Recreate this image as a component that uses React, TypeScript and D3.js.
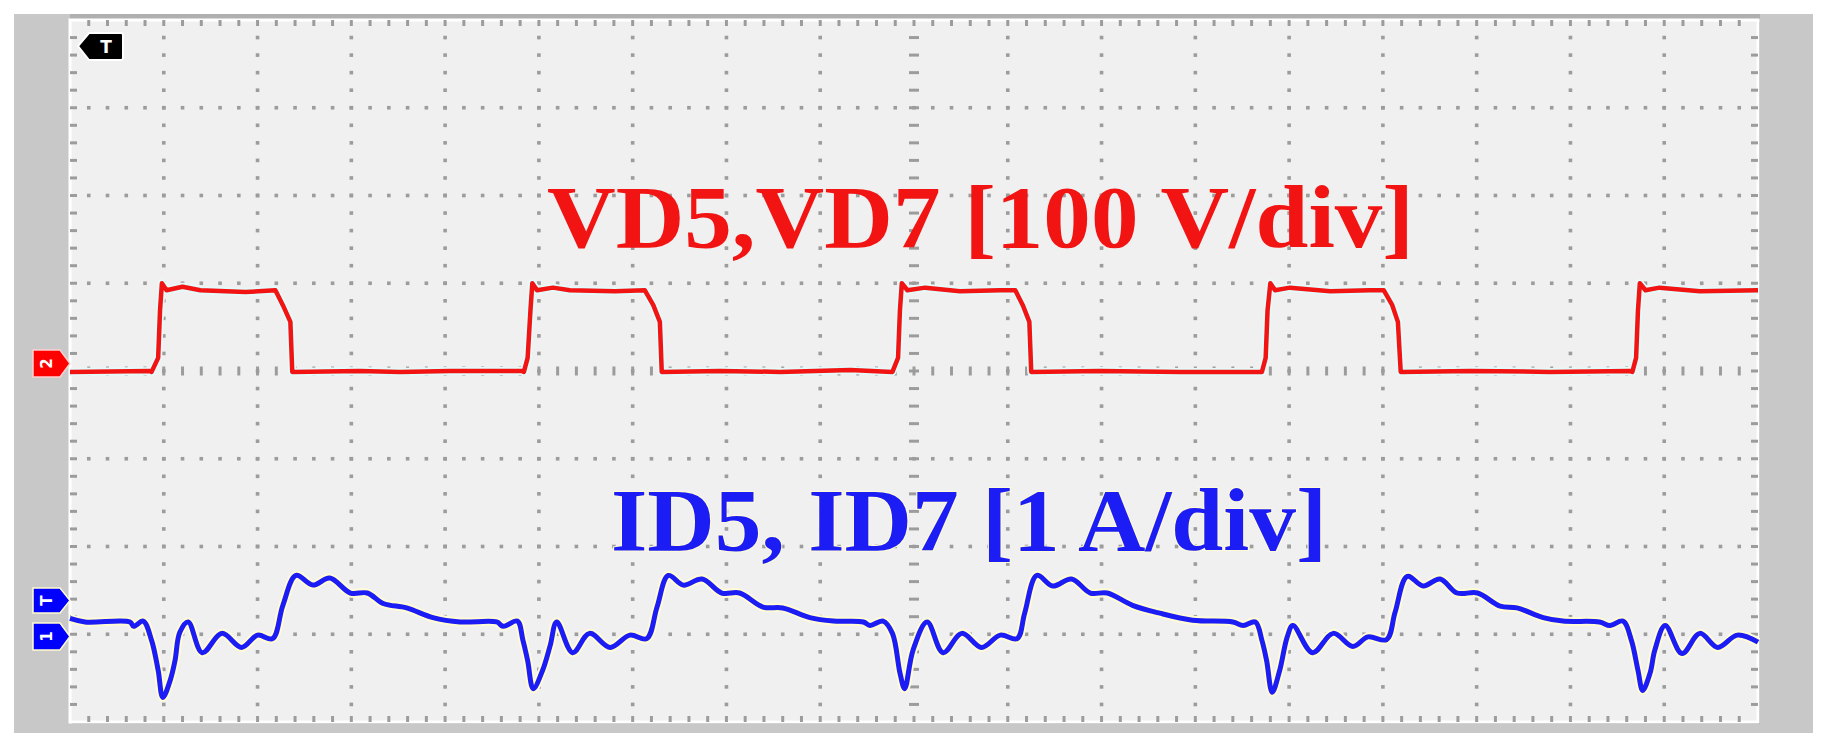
import React from 'react';
import * as d3 from 'd3';

// screen: 18 horizontal divisions x 8 vertical divisions, 5 minor steps each
const X_DIVS = 18;
const Y_DIVS = 8;
const MINOR = 5;

// CH2 : diode voltage (time in div, volts at 100 V/div, zero at center line)
const redTime = [
  0.0, 0.85, 0.87, 0.94, 0.96, 0.98, 1.03, 1.2, 1.39, 1.87, 2.19, 2.27, 2.35, 2.37,
  3.09, 3.52, 4.05, 4.82, 4.84, 4.88, 4.91, 4.93, 4.98, 5.15, 5.33, 5.81, 6.13, 6.22,
  6.29, 6.31, 6.93, 7.57, 8.32, 8.77, 8.83, 8.85, 8.87, 8.93, 9.12, 9.49, 9.92, 10.08,
  10.16, 10.23, 10.25, 10.98, 11.84, 12.71, 12.75, 12.77, 12.8, 12.85, 13.01, 13.44,
  13.86, 14.01, 14.1, 14.16, 14.19, 14.93, 15.78, 16.63, 16.66, 16.7, 16.72, 16.74,
  16.8, 16.95, 17.38, 18.0,
];
const redVolts = [
  -1, 0, -1, 15, 69, 100, 92, 96, 92, 90, 92, 75, 56, -1,
  0, -1, 0, 0, -1, 15, 69, 100, 92, 95, 92, 91, 92, 75,
  56, -1, 0, -1, 1, -1, 15, 69, 100, 92, 95, 91, 92, 92,
  75, 56, -1, 0, -1, -1, 15, 69, 100, 92, 95, 91,
  92, 92, 75, 56, -1, 0, -1, 0, -1, 15, 69, 100,
  92, 95, 91, 92,
];

// CH1 : diode current (time in div, amps at 1 A/div, zero 3 div below center)
const blueTime = [
  0.0, 0.16, 0.64, 0.68, 0.78, 0.87, 0.94, 0.99, 1.07, 1.12, 1.17, 1.26, 1.41, 1.62,
  1.83, 2.0, 2.16, 2.27, 2.41, 2.59, 2.77, 2.99, 3.17, 3.34, 3.59, 3.87, 4.16, 4.55,
  4.62, 4.77, 4.83, 4.88, 4.94, 5.04, 5.12, 5.19, 5.36, 5.54, 5.76, 5.97, 6.15, 6.26,
  6.38, 6.54, 6.74, 6.95, 7.14, 7.39, 7.6, 7.89, 8.14, 8.46, 8.53, 8.67, 8.77, 8.85,
  8.9, 8.99, 9.14, 9.31, 9.51, 9.72, 9.92, 10.1, 10.18, 10.31, 10.48, 10.68, 10.88,
  11.06, 11.33, 11.62, 11.97, 12.4, 12.51, 12.64, 12.71, 12.76, 12.82, 12.9, 12.98,
  13.04, 13.25, 13.47, 13.68, 13.84, 14.04, 14.13, 14.26, 14.43, 14.61, 14.79, 15.01,
  15.25, 15.43, 15.71, 15.92, 16.31, 16.42, 16.56, 16.65, 16.72, 16.77, 16.85, 16.9,
  17.01, 17.19, 17.38, 17.57, 17.78, 18.0,
];
const blueAmps = [
  0.18, 0.14, 0.14, 0.09, 0.15, -0.07, -0.41, -0.72, -0.52, -0.3, 0.02, 0.14, -0.21, 0.01,
  -0.15, -0.01, -0.05, 0.33, 0.67, 0.56, 0.64, 0.47, 0.47, 0.35, 0.3, 0.19, 0.14, 0.14,
  0.09, 0.15, -0.07, -0.3, -0.62, -0.41, -0.13, 0.14, -0.21, 0.01, -0.15, -0.01, -0.05, 0.31,
  0.67, 0.56, 0.63, 0.47, 0.47, 0.31, 0.3, 0.19, 0.15, 0.14, 0.1, 0.15, 0.01, -0.44,
  -0.62, -0.18, 0.14, -0.21, 0.01, -0.15, -0.01, -0.05, 0.24, 0.67, 0.55, 0.63, 0.47,
  0.47, 0.33, 0.24, 0.16, 0.14, 0.1, 0.14, -0.07, -0.3, -0.66, -0.41, -0.03,
  0.1, -0.21, 0.01, -0.14, -0.03, -0.06, 0.25, 0.66, 0.55, 0.63, 0.47, 0.47,
  0.32, 0.3, 0.19, 0.15, 0.14, 0.1, 0.15, -0.07, -0.41, -0.64, -0.44, -0.18,
  0.1, -0.22, 0.01, -0.15, -0.01, -0.09,
];

const redLabel = 'VD5,VD7 [100 V/div]';
const blueLabel = 'ID5, ID7 [1 A/div]';

const RED = '#f21313';
const BLUE = '#1c1cf5';
const DOT = '#9c9c9c';

function Scope() {
  const W = 1825;
  const H = 756;
  const plot = { left: 70, top: 20, right: 1758, bottom: 722 };

  const x = d3.scaleLinear().domain([0, X_DIVS]).range([plot.left, plot.right]);
  const yDiv = d3.scaleLinear().domain([-Y_DIVS / 2, Y_DIVS / 2]).range([plot.bottom, plot.top]);
  // 100 V/div, ground at the center line
  const yRed = d3.scaleLinear().domain([-400, 400]).range([plot.bottom, plot.top]);
  // 1 A/div, ground at -3 div
  const yBlue = d3.scaleLinear().domain([-1, 7]).range([plot.bottom, plot.top]);

  const redPts = redTime.map((t, i) => [t, redVolts[i]] as [number, number]);
  const bluePts = blueTime.map((t, i) => [t, blueAmps[i]] as [number, number]);

  const redLine = d3.line<[number, number]>()
    .x(d => x(d[0]))
    .y(d => yRed(d[1]));
  const blueLine = d3.line<[number, number]>()
    .x(d => x(d[0]))
    .y(d => yBlue(d[1]))
    .curve(d3.curveCatmullRom.alpha(0.5));

  // grid positions
  const xMinor = d3.range(1, X_DIVS * MINOR).map(i => x(i / MINOR));
  const yMinor = d3.range(1, Y_DIVS * MINOR).map(j => yDiv(-Y_DIVS / 2 + j / MINOR));
  const xMajor = d3.range(1, X_DIVS).filter(i => i !== X_DIVS / 2).map(i => x(i));
  const yMajor = d3.range(1, Y_DIVS).filter(j => j !== Y_DIVS / 2).map(j => yDiv(-Y_DIVS / 2 + j));
  const cx = x(X_DIVS / 2);
  const cy = yDiv(0);

  const ds = 3.6;
  const dots: React.ReactNode[] = [];
  yMajor.forEach((yy, a) => xMinor.forEach((xx, b) => {
    dots.push(<rect key={'h' + a + '-' + b} x={xx - ds / 2} y={yy - ds / 2} width={ds} height={ds} fill={DOT} />);
  }));
  xMajor.forEach((xx, a) => yMinor.forEach((yy, b) => {
    dots.push(<rect key={'v' + a + '-' + b} x={xx - ds / 2} y={yy - ds / 2} width={ds} height={ds} fill={DOT} />);
  }));

  const ticks: React.ReactNode[] = [];
  xMinor.forEach((xx, i) => {
    ticks.push(<line key={'ct' + i} x1={xx} x2={xx} y1={cy - 4.5} y2={cy + 4.5} stroke={DOT} strokeWidth={3} />);
    ticks.push(<line key={'tt' + i} x1={xx} x2={xx} y1={plot.top} y2={plot.top + 6} stroke={DOT} strokeWidth={3} />);
    ticks.push(<line key={'bt' + i} x1={xx} x2={xx} y1={plot.bottom - 6} y2={plot.bottom} stroke={DOT} strokeWidth={3} />);
  });
  yMinor.forEach((yy, j) => {
    ticks.push(<line key={'cv' + j} x1={cx - 5} x2={cx + 5} y1={yy} y2={yy} stroke={DOT} strokeWidth={3} />);
    ticks.push(<line key={'lt' + j} x1={plot.left} x2={plot.left + 7} y1={yy} y2={yy} stroke={DOT} strokeWidth={3} />);
    ticks.push(<line key={'rt' + j} x1={plot.right - 7} x2={plot.right} y1={yy} y2={yy} stroke={DOT} strokeWidth={3} />);
  });

  const marker = (yTop: number, yBot: number, fill: string, halo: string, label: string, key: string) => {
    const ym = (yTop + yBot) / 2;
    return (
      <g key={key}>
        <path d={`M33,${yTop} H60 L70,${ym} L60,${yBot} H33 Z`} fill={fill} stroke={halo} strokeWidth={1.5} />
        <text x={47} y={ym} fill="#fff" fontSize={15} fontWeight="bold" fontFamily="DejaVu Sans, sans-serif"
          textAnchor="middle" dominantBaseline="central" transform={`rotate(-90,47,${ym})`}>{label}</text>
      </g>
    );
  };

  const serif = '"Liberation Serif", "Times New Roman", serif';

  return (
    <svg width={W} height={H} style={{ position: 'absolute', left: 0, top: 0, background: '#fff' }}>
      <rect x={14} y={14} width={1799} height={719} fill="#c8c8c8" />
      <rect x={plot.left} y={14} width={plot.right - plot.left + 2} height={6} fill="#b0b0b0" />
      <rect x={plot.left + 2} y={plot.top + 2} width={plot.right - plot.left} height={plot.bottom - plot.top} fill="#a2a2a2" />
      <rect x={plot.left} y={plot.top} width={plot.right - plot.left} height={plot.bottom - plot.top}
        fill="#f0f0f0" stroke="#fff" strokeWidth={3} />
      <g>{dots}</g>
      <g>{ticks}</g>

      <text x={(547 + 1414) / 2} y={247} fill={RED} fontSize={88} fontWeight="bold" fontFamily={serif}
        textAnchor="middle" textLength={867} lengthAdjust="spacingAndGlyphs">{redLabel}</text>
      <text x={(611 + 1327) / 2} y={550} fill={BLUE} fontSize={88} fontWeight="bold" fontFamily={serif}
        textAnchor="middle" textLength={716} lengthAdjust="spacingAndGlyphs"
        stroke="#fffbd8" strokeWidth={2} paintOrder="stroke">{blueLabel}</text>

      <path d={redLine(redPts) || ''} fill="none" stroke="#e4fbfb" strokeWidth={8} strokeLinejoin="round" />
      <path d={redLine(redPts) || ''} fill="none" stroke={RED} strokeWidth={4.5} strokeLinejoin="round" />
      <path d={blueLine(bluePts) || ''} fill="none" stroke="#fffbd5" strokeWidth={9} strokeLinejoin="round" />
      <path d={blueLine(bluePts) || ''} fill="none" stroke={BLUE} strokeWidth={5} strokeLinejoin="round" />

      {/* trigger position marker */}
      <path d="M78,46 L89,33 H121 Q123,33 123,35 V58 Q123,60 121,60 H89 Z" fill="#000" stroke="#fff" strokeWidth={2} />
      <text x={106} y={47} fill="#fff" fontSize={17} fontWeight="bold" fontFamily="DejaVu Sans, sans-serif"
        textAnchor="middle" dominantBaseline="central">T</text>

      {marker(350, 377, '#ff0000', '#ffd0d0', '2', 'm2')}
      {marker(588, 613, '#0000ff', '#fffbd0', 'T', 'mt')}
      {marker(623, 650, '#0000ff', '#fffbd0', '1', 'm1')}
    </svg>
  );
}

export default function App() {
  return <Scope />;
}
